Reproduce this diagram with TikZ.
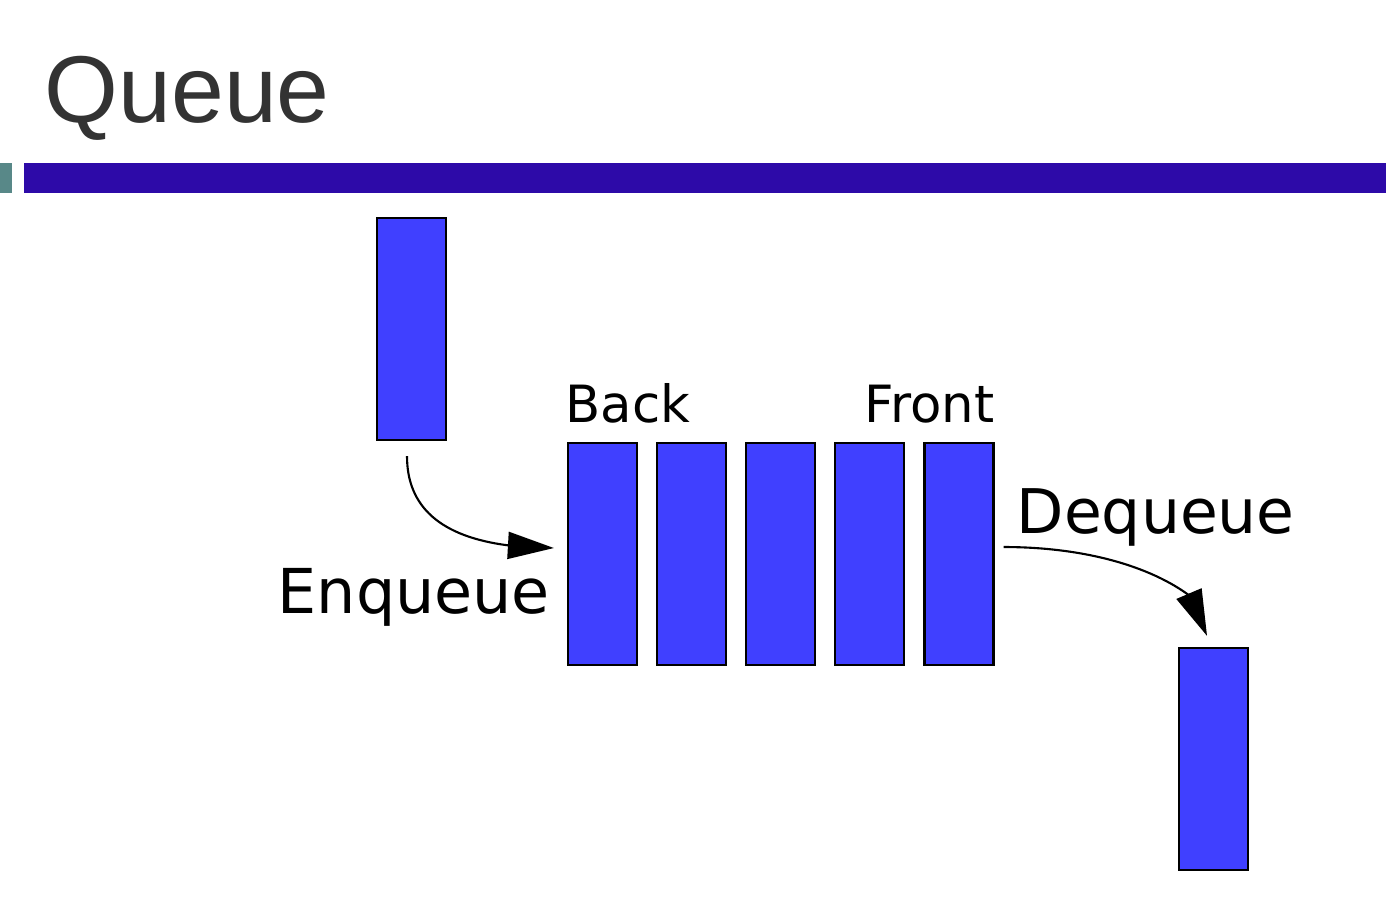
\documentclass[tikz,border=0pt]{standalone}
\usepackage{fontspec}
\setmainfont{DejaVu Sans}
\newfontfamily\slidefont{Liberation Sans}
\usetikzlibrary{arrows.meta,bending,positioning}
\definecolor{cellblue}{RGB}{64,64,255}
\definecolor{rulepurple}{RGB}{45,10,168}
\definecolor{ruleteal}{RGB}{88,136,136}
\definecolor{titlegray}{RGB}{51,51,51}
\tikzset{
  cell/.style={draw,line width=.6pt,fill=cellblue,inner sep=0pt,minimum width=.69cm,minimum height=2.22cm},
  lbl/.style={inner sep=0pt,anchor=base west},
  move/.style={line width=.6pt,-{Triangle[length=.46cm,width=.27cm,flex]}}
}
\begin{document}
\begin{tikzpicture}[x=.01cm,y=-.01cm]%
                    \useasboundingbox (0,0) rectangle (1386,911); %%
                    % slide header
                    \node[lbl,text=titlegray,font=\slidefont\fontsize{27}{32}\selectfont] (title) at (44,122) {Queue}; %%
                    \fill[ruleteal] (0,163) rectangle (12,193); %%
                    \fill[rulepurple] (24,163) rectangle (1386,193); %%
                    \begin{scope}
                        \tikzstyle{every node}=[cell];%%
                        \node (new) at (411.5,329)  {}; %%
                        \node (c1) at (602.5,554)  {}; %%
                        \node (c2) at (691.5,554)  {}; %%
                        \node (c3) at (780.5,554)  {}; %%
                        \node (c4) at (869.5,554)  {}; %%
                        \node (c5) at (959,554)  {}; %%
                        \node (out) at (1213.5,759)  {}; %%
                    \end{scope}
                    \node[lbl,font=\fontsize{14.6}{17}\selectfont] (back) at (565,422) {Back}; %%
                    \node[lbl,anchor=base east,font=\fontsize{14.6}{17}\selectfont] (front) at (995,422) {Front}; %%
                    \node[lbl,font=\fontsize{17.6}{21}\selectfont] (enq) at (277,613) {Enqueue}; %%
                    \node[lbl,font=\fontsize{17.5}{21}\selectfont] (deq) at (1016,533) {Dequeue}; %%
                    \coordinate (deqbend) at (1190,596); %%
                        \draw[move] ([xshift=-.045cm,yshift=-.15cm]new.south) .. controls +(0,60) and +(-100,0) .. ([xshift=-.13cm,yshift=.06cm]c1.west); %%
                        \draw[move] ([xshift=.09cm,yshift=.07cm]c5.east) .. controls +(80,0) and +(-40,-30) .. (deqbend) -- ([xshift=-.065cm,yshift=.11cm]out.north); %%
                    \end{tikzpicture}
\end{document}
